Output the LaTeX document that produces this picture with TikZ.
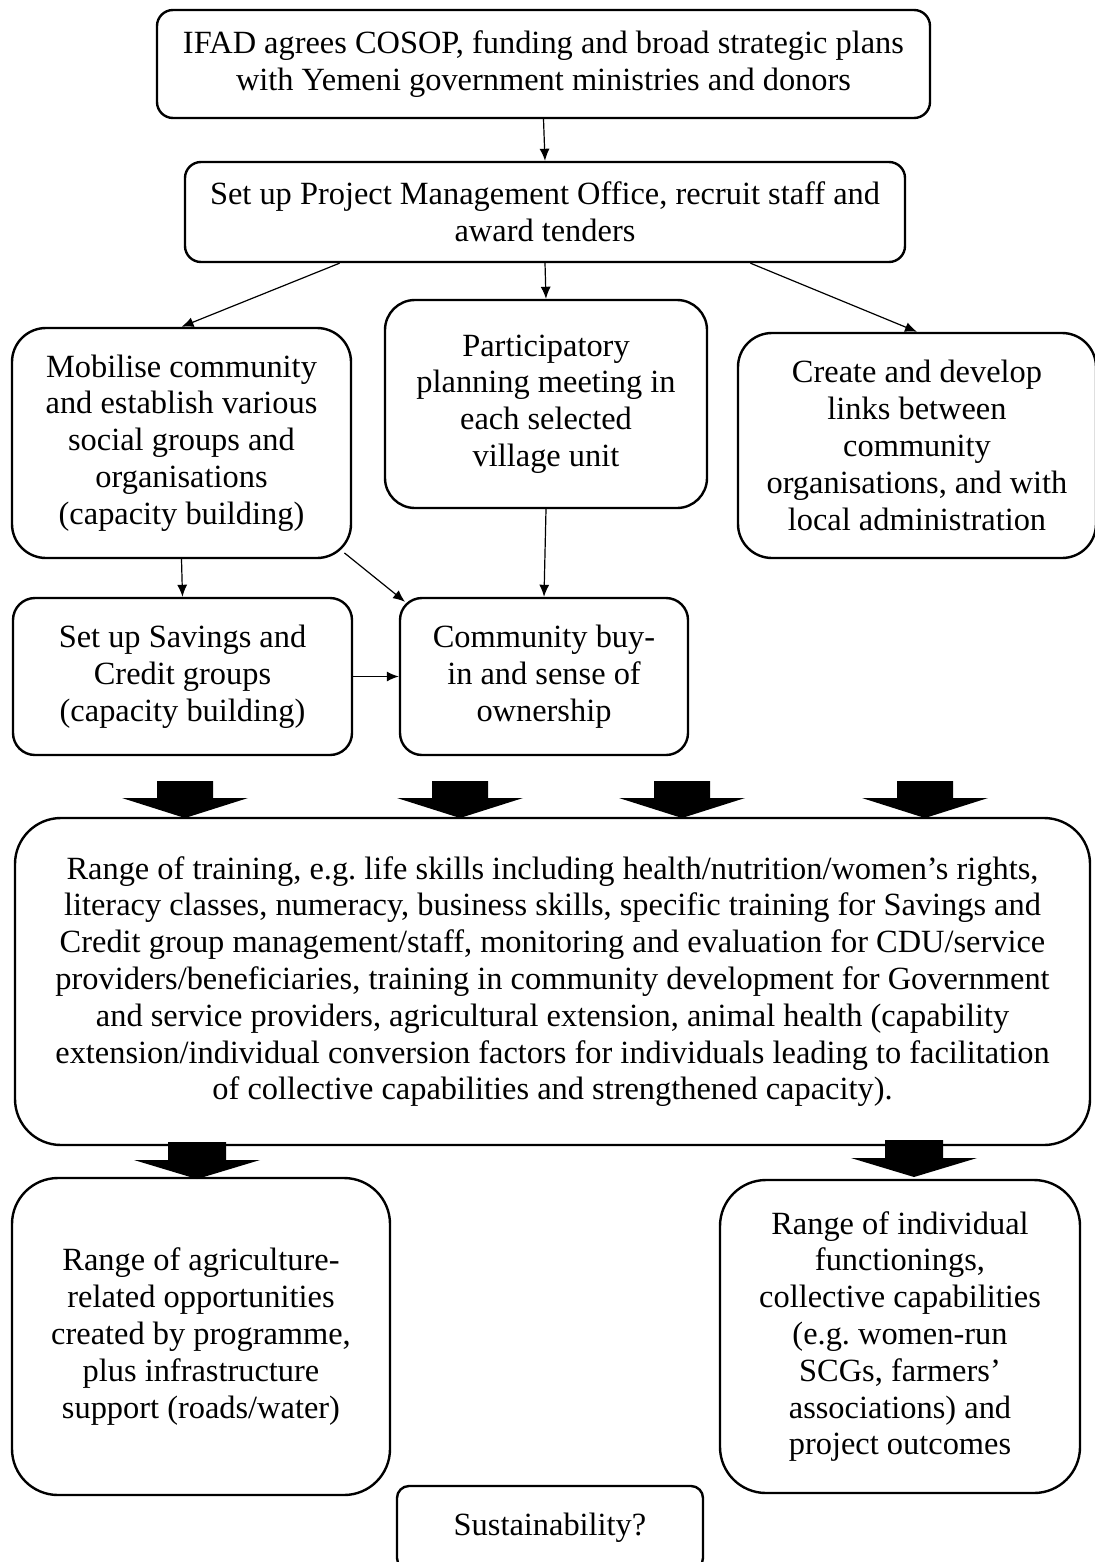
\documentclass[tikz,border=0pt]{standalone}
\usepackage{fontspec}
\setmainfont{Liberation Serif}
\usetikzlibrary{arrows.meta}
\frenchspacing
\begin{document}
\begin{tikzpicture}[x=0.5pt,y=-0.5pt,
    box/.style={draw,line width=1.2pt,align=center,inner sep=0pt,
      font=\fontsize{16.2}{18.4}\selectfont},
    link/.style={-{Latex[length=6pt,width=5pt]},line width=0.6pt}]
      \useasboundingbox (0,0) rectangle (1094,1562);
      \draw
        (543.5,64) node[box,minimum width=386.5pt,minimum height=54pt,rounded corners=8pt] (ifad)
          {IFAD agrees COSOP, funding and broad strategic plans\\with Yemeni government ministries and donors}
        (545,212) node[box,minimum width=360pt,minimum height=50pt,rounded corners=8pt] (pmo)
          {Set up Project Management Office, recruit staff and\\award tenders}
        (181.5,443) node[box,minimum width=169.5pt,minimum height=115pt,rounded corners=17pt] (mob)
          {Mobilise community\\and establish various\\social groups and\\organisations\\(capacity building)}
        (546,404) node[box,minimum width=161pt,minimum height=104pt,rounded corners=15pt] (plan)
          {Participatory\\planning meeting in\\each selected\\village unit}
        (917,445.5) node[box,minimum width=179pt,minimum height=112.5pt,rounded corners=17pt] (links)
          {Create and develop\\links between\\community\\organisations, and with\\local administration}
        (182.5,676.5) node[box,minimum width=169.5pt,minimum height=78.5pt,rounded corners=11pt] (scg)
          {Set up Savings and\\Credit groups\\(capacity building)}
        (544,676.5) node[box,minimum width=144pt,minimum height=78.5pt,rounded corners=11pt] (buyin)
          {Community buy-\\in and sense of\\ownership}
        (552.5,981.5) node[box,minimum width=537.5pt,minimum height=163.5pt,rounded corners=23pt] (train)
          {Range of training, e.g. life skills including health/nutrition/women’s rights,\\
           literacy classes, numeracy, business skills, specific training for Savings and\\
           Credit group management/staff, monitoring and evaluation for CDU/service\\
           providers/beneficiaries, training in community development for Government\\
           and service providers, agricultural extension, animal health (capability\\
           extension/individual conversion factors for individuals leading to facilitation\\
           of collective capabilities and strengthened capacity).}
        (201,1336.5) node[box,minimum width=189pt,minimum height=158.5pt,rounded corners=23pt] (agri)
          {Range of agriculture-\\related opportunities\\created by programme,\\plus infrastructure\\support (roads/water)}
        (900,1336.5) node[box,minimum width=180pt,minimum height=156.5pt,rounded corners=23pt] (indiv)
          {Range of individual\\functionings,\\collective capabilities\\(e.g. women-run\\SCGs, farmers’\\associations) and\\project outcomes}
        (550,1528) node[box,minimum width=153pt,minimum height=42pt,rounded corners=6pt] (sust)
          {Sustainability?};
      \begin{scope}[link]
        \draw (ifad.south) to (pmo.north);
        \draw (pmo.194) to (mob.north);
        \draw (pmo.south) to (plan.north);
        \draw (pmo.-14) to (links.north);
        \draw (mob.south) to (scg.north);
        \draw[shorten <=-5pt,shorten >=-4pt] (mob.south east) to (buyin.north west);
        \draw (plan.south) to (buyin.north);
        \draw (scg.east) to (buyin.west);
      \end{scope}
      % block arrows into and out of the training box
      \foreach \x in {185,460,682,925}
        \fill (\x-28,781) -- (\x+28,781) -- (\x+28,798) -- (\x+63,798)
          -- (\x,818) -- (\x-63,798) -- (\x-28,798) -- cycle;
      \foreach \x/\y in {197/1142,914/1140}
        \fill (\x-29,\y) -- (\x+29,\y) -- (\x+29,\y+18) -- (\x+63,\y+18)
          -- (\x,\y+37) -- (\x-63,\y+18) -- (\x-29,\y+18) -- cycle;
    \end{tikzpicture}
\end{document}
